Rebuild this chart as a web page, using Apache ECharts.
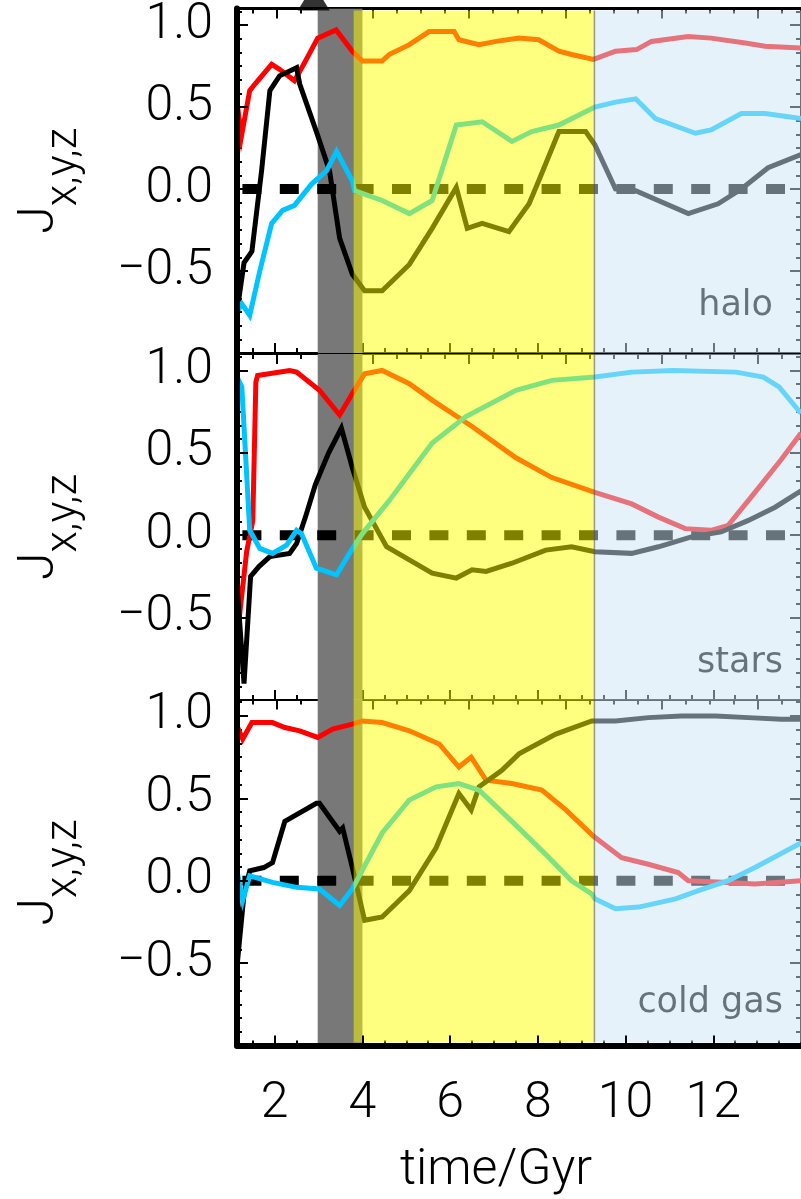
<!DOCTYPE html>
<html>
<head>
<meta charset="utf-8">
<script src="https://cdn.jsdelivr.net/npm/echarts@6/dist/echarts.min.js"></script>
<style>
html,body{margin:0;padding:0;background:#fff;}
#chart{width:801px;height:1199px;}
</style>
</head>
<body>
<div id="chart"></div>
<script>
// ---- axis ranges ----
const timeRange = [1.14, 14.0];      // time / Gyr
const topScaleRange = [1.171, 12.9]; // secondary (top) scale, ticks only
const jRange = [-1.0, 1.1];          // J_x,y,z

// ---- epochs ----
const greyEpoch = [2.98, 4.0];
const yellowEpoch = [3.8, 9.29];
const blueEpoch = [9.29, 14.0];

// event marker above the top panel
const eventMarker = [[2.89, 1.168]];

const panelNames = ['halo', 'stars', 'cold gas'];

// ---- halo ----
const haloJx = [[1.14,0.53],[1.24,0.32],[1.43,0.60],[1.55,0.64],[1.93,0.76],[2.11,0.73],[2.45,0.66],[2.68,0.77],[2.98,0.92],[3.40,0.97],[3.77,0.84],[4.0,0.78],[4.45,0.78],[4.61,0.82],[5.07,0.88],[5.52,0.96],[6.09,0.96],[6.20,0.91],[6.66,0.88],[7.05,0.90],[7.57,0.92],[8.02,0.91],[8.48,0.84],[8.77,0.82],[9.27,0.79],[9.77,0.84],[10.25,0.85],[10.59,0.90],[11.43,0.93],[11.95,0.92],[12.73,0.89],[13.18,0.87],[14.0,0.86]];
const haloJy = [[1.14,-0.75],[1.30,-0.45],[1.48,-0.38],[1.70,0.11],[1.89,0.60],[2.11,0.69],[2.50,0.74],[2.57,0.64],[2.95,0.35],[3.25,0.11],[3.48,-0.30],[3.77,-0.52],[4.05,-0.62],[4.45,-0.62],[5.07,-0.46],[5.59,-0.24],[6.14,0.01],[6.39,-0.24],[6.73,-0.21],[7.34,-0.26],[7.80,-0.09],[8.02,0.05],[8.48,0.35],[9.09,0.35],[9.30,0.27],[9.77,0.0],[10.23,-0.01],[11.43,-0.15],[12.11,-0.09],[12.64,0.0],[13.25,0.13],[14.0,0.21]];
const haloJz = [[1.14,-0.75],[1.25,-0.70],[1.43,-0.77],[1.66,-0.50],[1.93,-0.21],[2.18,-0.13],[2.45,-0.10],[2.84,0.03],[3.18,0.11],[3.41,0.23],[3.77,0.05],[3.82,-0.01],[4.45,-0.07],[5.07,-0.15],[5.59,-0.07],[6.14,0.39],[6.73,0.41],[7.41,0.29],[7.86,0.35],[8.48,0.39],[9.30,0.50],[9.77,0.53],[10.23,0.55],[10.68,0.43],[11.59,0.34],[11.95,0.36],[12.64,0.46],[13.18,0.46],[14.0,0.43]];

// ---- stars ----
const starsJx = [[1.14,-0.29],[1.23,-0.41],[1.36,-0.10],[1.50,0.09],[1.57,0.93],[1.61,0.97],[2.34,1.00],[2.50,0.99],[3.02,0.88],[3.48,0.73],[3.77,0.86],[4.05,0.98],[4.45,1.00],[5.07,0.92],[5.59,0.82],[6.50,0.66],[7.50,0.47],[8.32,0.35],[9.30,0.26],[10.14,0.19],[10.75,0.11],[11.36,0.04],[11.95,0.03],[12.34,0.06],[12.95,0.26],[13.55,0.46],[14.0,0.62]];
const starsJy = [[1.14,-0.30],[1.30,-0.90],[1.45,-0.25],[1.64,-0.19],[1.89,-0.13],[2.34,-0.11],[2.50,-0.05],[2.70,0.11],[2.93,0.31],[3.23,0.50],[3.52,0.65],[3.77,0.41],[4.05,0.17],[4.55,-0.07],[5.59,-0.23],[6.14,-0.26],[6.50,-0.21],[6.82,-0.22],[7.41,-0.17],[8.18,-0.09],[8.77,-0.07],[9.30,-0.10],[10.14,-0.11],[10.75,-0.07],[11.50,-0.01],[12.18,0.02],[12.80,0.09],[13.41,0.17],[14.0,0.27]];
const starsJz = [[1.14,0.96],[1.25,0.90],[1.43,0.03],[1.66,-0.08],[1.95,-0.11],[2.27,-0.06],[2.50,0.03],[2.61,0.01],[2.95,-0.20],[3.41,-0.24],[3.75,-0.09],[4.0,0.01],[4.61,0.21],[5.59,0.56],[6.36,0.72],[7.50,0.88],[8.32,0.94],[9.30,0.96],[10.14,0.99],[11.09,1.00],[12.52,0.99],[13.14,0.96],[13.50,0.90],[14.0,0.74]];

// ---- cold gas ----
const gasJx = [[1.14,0.94],[1.27,0.86],[1.48,0.96],[1.95,0.96],[2.23,0.93],[2.57,0.91],[2.98,0.87],[3.32,0.92],[3.77,0.95],[4.0,0.97],[4.45,0.96],[5.07,0.91],[5.75,0.83],[6.20,0.69],[6.48,0.75],[6.82,0.61],[7.41,0.59],[8.09,0.55],[8.64,0.43],[9.27,0.27],[9.91,0.14],[10.52,0.10],[11.20,0.05],[11.43,0.0],[12.34,-0.01],[12.95,-0.02],[14.0,0.0]];
const gasJy = [[1.14,-0.52],[1.30,-0.08],[1.43,0.06],[1.75,0.08],[1.95,0.11],[2.23,0.36],[2.95,0.47],[3.02,0.47],[3.48,0.30],[3.55,0.32],[3.77,0.08],[4.05,-0.24],[4.45,-0.22],[5.07,-0.06],[5.68,0.20],[6.20,0.53],[6.48,0.43],[6.66,0.57],[7.18,0.67],[7.57,0.77],[8.41,0.89],[9.23,0.97],[9.77,0.97],[10.52,0.99],[11.27,1.00],[12.05,1.00],[12.80,0.99],[13.55,0.98],[14.0,0.98]];
const gasJz = [[1.14,0.06],[1.27,-0.12],[1.43,0.03],[1.95,-0.01],[2.50,-0.04],[3.02,-0.05],[3.48,-0.15],[3.77,-0.05],[4.45,0.29],[5.07,0.49],[5.68,0.57],[6.20,0.59],[6.66,0.55],[7.41,0.36],[8.18,0.16],[8.77,0.0],[9.23,-0.08],[9.30,-0.11],[9.77,-0.17],[10.30,-0.16],[11.14,-0.11],[11.66,-0.06],[12.34,0.0],[12.95,0.08],[14.0,0.23]];

const panels = [
  { name: panelNames[0], jx: haloJx,  jy: haloJy,  jz: haloJz },
  { name: panelNames[1], jx: starsJx, jy: starsJy, jz: starsJz },
  { name: panelNames[2], jx: gasJx,   jy: gasJy,   jz: gasJz }
];

// ---- styling ----
const FONT = 'Roboto, "Liberation Sans", Arial, sans-serif';
const FONT_WEIGHT = 300;
const LABEL_FONT = '"DejaVu Sans", sans-serif';
const COL_X = '#ff0000', COL_Y = '#000000', COL_Z = '#00c3ff';
const gridTops = [7, 354, 699.5];
const gridH = 346;
const gridLeft = 237;
const gridWidth = 566;

const chart = echarts.init(document.getElementById('chart'), null, { renderer: 'canvas' });

const grids = [], xAxes = [], yAxes = [], series = [], graphics = [];

function fmtJ(v) {
  if (v < -0.99 || v > 1.05) return '';
  return (v < 0 ? '\u2212' : '') + Math.abs(v).toFixed(1);
}

function tickOnly(extra) {
  return Object.assign({
    type: 'value',
    axisLine: { show: false, onZero: false },
    axisLabel: { show: false },
    splitLine: { show: false },
    axisTick: { show: true, inside: true, length: 5, lineStyle: { color: '#000', width: 2 } }
  }, extra);
}

panels.forEach((p, i) => {
  const last = i === panels.length - 1;
  grids.push({ left: gridLeft, top: gridTops[i], width: gridWidth, height: gridH });
  const xBase = xAxes.length;
  // bottom time axis (major)
  xAxes.push({
    type: 'value', gridIndex: i, position: 'bottom', min: timeRange[0], max: timeRange[1], splitNumber: 6,
    axisLine: { show: true, onZero: false, lineStyle: { color: '#000', width: last ? 6 : 2 } },
    axisTick: { show: true, inside: true, length: 10, lineStyle: { color: '#000', width: 2 } },
    axisLabel: last ? {
      show: true, margin: 34, fontSize: 50, fontFamily: FONT, fontWeight: FONT_WEIGHT, color: '#000',
      showMinLabel: false, showMaxLabel: false,
      formatter: v => (Math.abs(v - Math.round(v)) < 1e-6 && Math.round(v) % 2 === 0) ? String(Math.round(v)) : ''
    } : { show: false },
    splitLine: { show: false },
    name: last ? 'time/Gyr' : '', nameLocation: 'middle', nameGap: 101,
    nameTextStyle: { fontSize: 50, fontFamily: FONT, fontWeight: FONT_WEIGHT, color: '#000', padding: [0, 46, 0, 0] },
    z: last ? 10 : 0
  });
  // bottom time axis (minor ticks)
  xAxes.push(tickOnly({ gridIndex: i, position: 'bottom', min: timeRange[0], max: timeRange[1], splitNumber: 26 }));
  // top scale (major)
  xAxes.push({
    type: 'value', gridIndex: i, position: 'top', min: topScaleRange[0], max: topScaleRange[1], splitNumber: 6,
    axisLine: { show: true, onZero: false, lineStyle: { color: '#000', width: i === 0 ? 3 : 2 } },
    axisTick: { show: true, inside: true, length: 10, lineStyle: { color: '#000', width: 2 } },
    axisLabel: { show: false }, splitLine: { show: false }
  });
  // top scale (minor)
  xAxes.push(tickOnly({ gridIndex: i, position: 'top', min: topScaleRange[0], max: topScaleRange[1], splitNumber: 24 }));

  const yBase = yAxes.length;
  yAxes.push({
    type: 'value', gridIndex: i, position: 'left', min: jRange[0], max: jRange[1], interval: 0.5,
    axisLine: { show: true, onZero: false, lineStyle: { color: '#000', width: 6 } },
    axisTick: { show: true, inside: true, length: 11, lineStyle: { color: '#000', width: 2 } },
    axisLabel: { show: true, margin: 24, fontSize: 50, fontFamily: FONT, fontWeight: FONT_WEIGHT, color: '#000', formatter: fmtJ, padding: [9, 0, 0, 0] },
    splitLine: { show: false },
    name: '{j|J}{s|x,y,z}', nameLocation: 'middle', nameRotate: 90, nameGap: 172,
    nameTextStyle: {
      color: '#000',
      rich: {
        j: { fontSize: 50, fontFamily: FONT, fontWeight: FONT_WEIGHT, color: '#000', verticalAlign: 'top', lineHeight: 50 },
        s: { fontSize: 44, fontFamily: FONT, fontWeight: FONT_WEIGHT, color: '#000', verticalAlign: 'top', lineHeight: 44, padding: [28, 0, 0, 0] }
      }
    },
    z: 10
  });
  yAxes.push(tickOnly({ gridIndex: i, position: 'left', min: jRange[0], max: jRange[1], interval: 1 / 12 }));
  yAxes.push({
    type: 'value', gridIndex: i, position: 'right', min: jRange[0], max: jRange[1], interval: 0.5,
    axisLine: { show: true, onZero: false, lineStyle: { color: '#000', width: 3 } },
    axisTick: { show: true, inside: true, length: 11, lineStyle: { color: '#000', width: 2 } },
    axisLabel: { show: false }, splitLine: { show: false }
  });
  yAxes.push(tickOnly({ gridIndex: i, position: 'right', min: jRange[0], max: jRange[1], interval: 1 / 12 }));

  const xi = xBase, yi = yBase;

  // grey epoch band, under the curves
  series.push({
    type: 'custom', xAxisIndex: xi, yAxisIndex: yi, z: 1, silent: true, clip: true,
    data: [[greyEpoch[0], greyEpoch[1]]],
    renderItem: (params, api) => {
      const a = api.coord([api.value(0), jRange[1]]);
      const b = api.coord([api.value(1), jRange[0]]);
      return { type: 'rect', shape: { x: a[0], y: a[1], width: b[0] - a[0], height: b[1] - a[1] }, style: { fill: '#787878' } };
    }
  });

  // zero reference
  series.push({
    type: 'line', xAxisIndex: xi, yAxisIndex: yi, z: 2, silent: true, symbol: 'none',
    data: [[timeRange[0], 0], [timeRange[1], 0]],
    lineStyle: { color: '#000', width: 10, type: [19, 18.4], dashOffset: 32 }
  });

  [[p.jx, COL_X], [p.jy, COL_Y], [p.jz, COL_Z]].forEach(([d, c]) => {
    series.push({
      type: 'line', xAxisIndex: xi, yAxisIndex: yi, z: 3, silent: true, symbol: 'none', clip: true,
      data: d, lineStyle: { color: c, width: 5, join: 'miter' }
    });
  });

  if (i === 0) {
    series.push({
      type: 'scatter', xAxisIndex: xi, yAxisIndex: yi, z: 4, silent: true, clip: false,
      symbol: 'triangle', symbolSize: [32, 26], data: eventMarker,
      itemStyle: { color: '#000' }
    });
  }

  // translucent epoch overlays, drawn over the curves
  const topInset = i === 0 ? 2 : 0;
  const botInset = last ? 3 : 0;
  series.push({
    type: 'custom', xAxisIndex: xi, yAxisIndex: yi, z: 5, silent: true, clip: true,
    data: [[yellowEpoch[0], yellowEpoch[1], 0], [blueEpoch[0], blueEpoch[1], 1]],
    renderItem: (params, api) => {
      const a = api.coord([api.value(0), jRange[1]]);
      const b = api.coord([api.value(1), jRange[0]]);
      const kind = api.value(2);
      const rect = {
        type: 'rect',
        shape: { x: a[0], y: a[1] + topInset, width: b[0] - a[0], height: b[1] - a[1] - topInset - botInset },
        style: { fill: kind === 0 ? 'rgba(255,255,0,0.5)' : 'rgba(205,230,245,0.5)' }
      };
      if (kind === 1) {
        return { type: 'group', children: [rect, {
          type: 'line', shape: { x1: a[0], y1: a[1] + topInset, x2: a[0], y2: b[1] - botInset },
          style: { stroke: 'rgba(90,90,90,0.6)', lineWidth: 1.5 }
        }] };
      }
      return rect;
    }
  });
});

// panel captions (sit under the translucent overlay)
const captionPos = [[773, 306], [783, 663], [783, 1003]];
panels.forEach((p, i) => {
  graphics.push({
    type: 'text', z: 3, silent: true,
    x: captionPos[i][0], y: captionPos[i][1],
    style: { text: p.name, fill: '#000', font: '35px ' + LABEL_FONT, textAlign: 'right', textVerticalAlign: 'middle' }
  });
});

chart.setOption({
  animation: false,
  backgroundColor: '#fff',
  grid: grids,
  xAxis: xAxes,
  yAxis: yAxes,
  series: series,
  graphic: graphics
});
</script>
</body>
</html>
